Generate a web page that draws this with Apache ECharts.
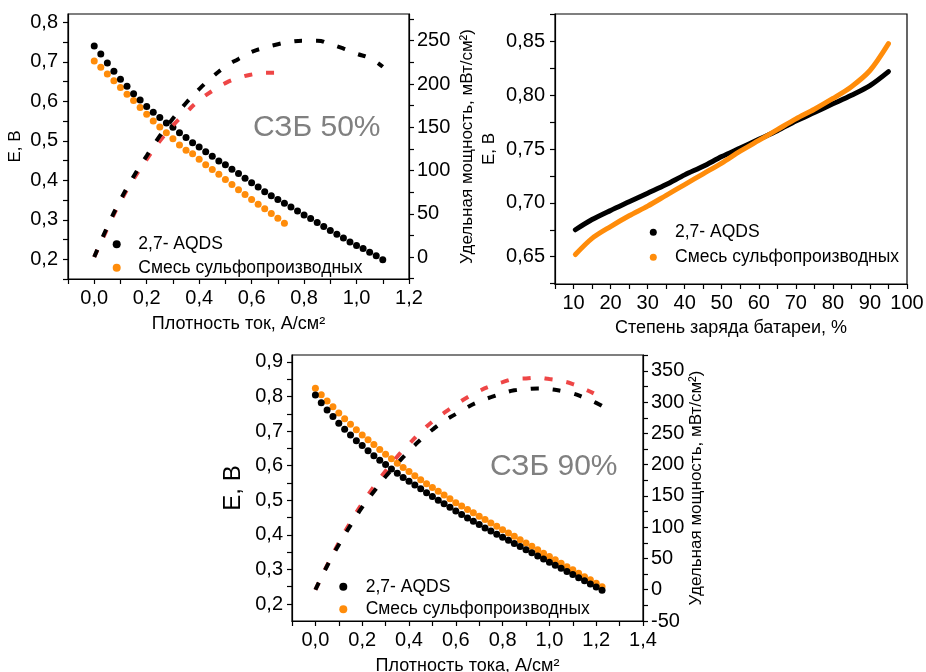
<!DOCTYPE html>
<html><head><meta charset="utf-8">
<script src="https://cdn.jsdelivr.net/npm/echarts@6/dist/echarts.min.js"></script>
<style>html,body{margin:0;padding:0;background:#fff}#c{width:926px;height:672px}</style>
</head><body><div id="c"></div>
<script>
// ---------- data ----------
const currentGrid = [0,0.025,0.05,0.075,0.1,0.125,0.15,0.175,0.2,0.225,0.25,0.275,0.3,0.325,0.35,0.375,0.4,0.425,0.45,0.475,0.5,0.525,0.55,0.575,0.6,0.625,0.65,0.675,0.7,0.725,0.75,0.775,0.8,0.825,0.85,0.875,0.9,0.925,0.95,0.975,1.0,1.025,1.05,1.075,1.1,1.125,1.15,1.175,1.2,1.225];

// СЗБ 50%
const tlAqdsV = [0.740,0.720,0.697,0.676,0.656,0.638,0.619,0.603,0.587,0.572,0.559,0.545,0.534,0.520,0.508,0.495,0.484,0.472,0.461,0.449,0.439,0.428,0.417,0.405,0.394,0.383,0.371,0.361,0.351,0.342,0.332,0.322,0.312,0.303,0.293,0.283,0.273,0.263,0.254,0.244,0.235,0.227,0.218,0.209,0.199];
const tlMixV = [0.702,0.686,0.669,0.652,0.635,0.618,0.602,0.584,0.567,0.550,0.535,0.520,0.505,0.489,0.476,0.467,0.453,0.439,0.427,0.415,0.402,0.389,0.376,0.364,0.351,0.339,0.328,0.316,0.304,0.291];
const tlPowerX = [0,0.05,0.1,0.15,0.2,0.25,0.3,0.35,0.4,0.45,0.5,0.55,0.6,0.65,0.7,0.75,0.8,0.85,0.9,0.95,1.0,1.05,1.1];
const tlAqdsP = [0,35,66,93,117,140,160,178,194,208,220,229,237,242,246,249,250,250,246,241,235,230,220];
const tlMixP = [0,33,64,90,113,134,152,167,181,192,201,207,211,213,213];

// State of charge
const socX = [10.5,15,20,25,30,35,40,45,50,55,60,65,70,75,80,85,90,95];
const socAqdsV = [0.675,0.6845,0.693,0.701,0.709,0.717,0.726,0.734,0.743,0.751,0.759,0.767,0.776,0.784,0.792,0.800,0.809,0.822];
const socMixV = [0.652,0.667,0.678,0.688,0.697,0.707,0.717,0.727,0.737,0.748,0.758,0.768,0.778,0.787,0.797,0.808,0.823,0.848];

// СЗБ 90%
const bAqdsV = [0.804,0.782,0.761,0.742,0.723,0.705,0.689,0.672,0.658,0.643,0.629,0.616,0.603,0.590,0.578,0.566,0.555,0.544,0.533,0.522,0.511,0.500,0.490,0.480,0.469,0.459,0.449,0.439,0.430,0.420,0.411,0.402,0.393,0.384,0.375,0.366,0.357,0.348,0.339,0.330,0.321,0.312,0.303,0.294,0.285,0.276,0.267,0.258,0.249,0.240];
const bMixV = [0.824,0.805,0.787,0.770,0.752,0.736,0.720,0.704,0.689,0.675,0.661,0.647,0.633,0.620,0.607,0.595,0.583,0.571,0.559,0.548,0.537,0.526,0.515,0.504,0.493,0.483,0.473,0.464,0.454,0.444,0.434,0.425,0.415,0.405,0.396,0.386,0.376,0.367,0.357,0.347,0.337,0.328,0.318,0.308,0.299,0.289,0.279,0.270,0.260,0.250];
const bPowerX = [0,0.05,0.1,0.15,0.2,0.25,0.3,0.35,0.4,0.45,0.5,0.55,0.6,0.65,0.7,0.75,0.8,0.85,0.9,0.95,1.0,1.05,1.1,1.15,1.2,1.225];
const bAqdsP = [0,38,72,103,132,157,181,202,222,240,256,270,281,292,301,308,314,319,321,322,321,318,314,307,299,294];
const bMixP = [0,39,75,108,138,165,190,213,233,252,269,283,296,308,318,326,332,337,338,339,337,334,329,321,312,306];

// tick labels / tick marks
const tlXLabels = [0,0.2,0.4,0.6,0.8,1.0,1.2];
const tlXTicks = [-0.1,0,0.1,0.2,0.3,0.4,0.5,0.6,0.7,0.8,0.9,1.0,1.1,1.2];
const tlYLabels = [0.2,0.3,0.4,0.5,0.6,0.7,0.8];
const tlYTicks = [0.15,0.2,0.25,0.3,0.35,0.4,0.45,0.5,0.55,0.6,0.65,0.7,0.75,0.8];
const tlPLabels = [0,50,100,150,200,250];
const tlPTicks = [-25,0,25,50,75,100,125,150,175,200,225,250,275];
const trXLabels = [10,20,30,40,50,60,70,80,90,100];
const trXTicks = [5,10,15,20,25,30,35,40,45,50,55,60,65,70,75,80,85,90,95,100];
const trYLabels = [0.65,0.70,0.75,0.80,0.85];
const trYTicks = [0.625,0.65,0.675,0.70,0.725,0.75,0.775,0.80,0.825,0.85,0.875];
const bXLabels = [0,0.2,0.4,0.6,0.8,1.0,1.2,1.4];
const bXTicks = [-0.1,0,0.1,0.2,0.3,0.4,0.5,0.6,0.7,0.8,0.9,1.0,1.1,1.2,1.3,1.4];
const bYLabels = [0.2,0.3,0.4,0.5,0.6,0.7,0.8,0.9];
const bYTicks = [0.15,0.2,0.25,0.3,0.35,0.4,0.45,0.5,0.55,0.6,0.65,0.7,0.75,0.8,0.85,0.9];
const bPLabels = [-50,0,50,100,150,200,250,300,350];
const bPTicks = [-50,-25,0,25,50,75,100,125,150,175,200,225,250,275,300,325,350,375];

const NAME_A = '2,7- AQDS';
const NAME_M = 'Смесь сульфопроизводных';
const FONT = 'Liberation Sans, Arial, sans-serif';
const BLACK = '#000000', ORANGE = '#ff8c0a', RED = '#ee4646';

// ---------- helpers ----------
const zip = (xs, ys) => ys.map((y, i) => [xs[i], y]);
const dec = d => v => Number(v).toFixed(d).replace('.', ',');
function axis(o) {
  return Object.assign({
    type: 'value',
    splitLine: { show: false },
    axisLine: { show: true, onZero: false, lineStyle: { color: '#000', width: 1.2 } },
    axisTick: { show: true, inside: false, length: 5, customValues: o.ticks, lineStyle: { color: '#000', width: 1.2 } },
    axisLabel: { customValues: o.labels, formatter: o.fmt, color: '#000', fontSize: 20, fontFamily: FONT, margin: o.margin || 9, showMinLabel: true, showMaxLabel: true },
    nameLocation: 'middle',
    nameTextStyle: Object.assign({ color: '#000', fontSize: 18, fontFamily: FONT }, o.nameStyle || {})
  }, o.extra);
}
function legend(dotX, top, textX, gap, dot) {
  return {
    data: [{ name: NAME_A, icon: 'circle' }, { name: NAME_M, icon: 'circle' }],
    orient: 'vertical', left: dotX - dot / 2, top: top, padding: 0,
    itemWidth: dot, itemHeight: dot, itemGap: gap, selectedMode: false,
    textStyle: { fontSize: 17.5, fontFamily: FONT, color: '#000', lineHeight: 18, padding: [0, 0, 0, textX - (dotX + dot / 2) - 5] }
  };
}
const dash = (color) => ({ color: color, width: 4, type: [8, 14], cap: 'butt' });
const dotStyle = (c) => ({ color: c, opacity: 1 });

const chart = echarts.init(document.getElementById('c'), null, { renderer: 'canvas' });
chart.setOption({
  animation: false,
  backgroundColor: '#fff',
  grid: [
    { left: 68, top: 14, width: 341, height: 265, show: true, borderColor: '#000', borderWidth: 1.2, outerBoundsMode: 'none' },
    { left: 555, top: 14, width: 352, height: 270, show: true, borderColor: '#000', borderWidth: 1.2, outerBoundsMode: 'none' },
    { left: 292, top: 355, width: 351, height: 266, show: true, borderColor: '#000', borderWidth: 1.2, outerBoundsMode: 'none' }
  ],
  title: [
    { text: 'СЗБ 50%', left: 253, top: 113, padding: 0, textStyle: { color: '#808080', fontSize: 30, fontWeight: 'normal', fontFamily: FONT } },
    { text: 'СЗБ 90%', left: 490, top: 452, padding: 0, textStyle: { color: '#808080', fontSize: 30, fontWeight: 'normal', fontFamily: FONT } }
  ],
  legend: [
    legend(116.7, 235.3, 138.3, 5.4, 8),
    legend(653.3, 223.3, 675, 7, 7),
    legend(343.3, 577.7, 365.7, 4.6, 8)
  ],
  xAxis: [
    axis({ ticks: tlXTicks, labels: tlXLabels, fmt: dec(1), extra: { gridIndex: 0, min: -0.1, max: 1.2, position: 'bottom', name: 'Плотность ток, А/см²', nameGap: 36 } }),
    axis({ ticks: trXTicks, labels: trXLabels, fmt: v => String(Math.round(v)), extra: { gridIndex: 1, min: 5, max: 100, position: 'bottom', name: 'Степень заряда батареи, %', nameGap: 35 } }),
    axis({ ticks: bXTicks, labels: bXLabels, fmt: dec(1), extra: { gridIndex: 2, min: -0.1, max: 1.4, position: 'bottom', name: 'Плотность тока, А/см²', nameGap: 36 } })
  ],
  yAxis: [
    axis({ ticks: tlYTicks, labels: tlYLabels, fmt: dec(1), margin: 10, nameStyle: { fontSize: 17 }, extra: { gridIndex: 0, min: 0.15, max: 0.821, position: 'left', name: 'Е, В', nameGap: 44 } }),
    axis({ ticks: tlPTicks, labels: tlPLabels, fmt: v => String(Math.round(v)), margin: 8, nameStyle: { fontSize: 17 }, extra: { gridIndex: 0, min: -25.4, max: 280.9, position: 'right', name: 'Удельная мощность, мВт/см²)', nameGap: 50 } }),
    axis({ ticks: trYTicks, labels: trYLabels, fmt: dec(2), margin: 10, nameStyle: { fontSize: 17 }, extra: { gridIndex: 1, min: 0.6246, max: 0.8755, position: 'left', name: 'Е, В', nameGap: 57 } }),
    axis({ ticks: bYTicks, labels: bYLabels, fmt: dec(1), margin: 9, nameStyle: { fontSize: 24 }, extra: { gridIndex: 2, min: 0.1508, max: 0.920, position: 'left', name: 'Е, В', nameGap: 47 } }),
    axis({ ticks: bPTicks, labels: bPLabels, fmt: v => String(Math.round(v)), margin: 8, nameStyle: { fontSize: 17 }, extra: { gridIndex: 2, min: -50, max: 375.5, position: 'right', name: 'Удельная мощность, мВт/см²)', nameGap: 45 } })
  ],
  series: [
    // СЗБ 50%
    { type: 'scatter', name: NAME_M, xAxisIndex: 0, yAxisIndex: 0, symbolSize: 7, itemStyle: dotStyle(ORANGE), data: zip(currentGrid, tlMixV) },
    { type: 'scatter', name: NAME_A, xAxisIndex: 0, yAxisIndex: 0, symbolSize: 7, itemStyle: dotStyle(BLACK), data: zip(currentGrid, tlAqdsV) },
    { type: 'line', name: 'P50 mix', xAxisIndex: 0, yAxisIndex: 1, showSymbol: false, smooth: true, lineStyle: dash(RED), data: zip(tlPowerX, tlMixP) },
    { type: 'line', name: 'P50 aqds', xAxisIndex: 0, yAxisIndex: 1, showSymbol: false, smooth: true, lineStyle: dash(BLACK), data: zip(tlPowerX, tlAqdsP) },
    // SOC
    { type: 'line', name: NAME_A, xAxisIndex: 1, yAxisIndex: 2, showSymbol: false, smooth: 0.3, itemStyle: { color: BLACK }, lineStyle: { color: BLACK, width: 5, cap: 'round' }, data: zip(socX, socAqdsV) },
    { type: 'line', name: NAME_M, xAxisIndex: 1, yAxisIndex: 2, showSymbol: false, smooth: 0.3, itemStyle: { color: ORANGE }, lineStyle: { color: ORANGE, width: 5, cap: 'round' }, data: zip(socX, socMixV) },
    // СЗБ 90%
    { type: 'scatter', name: NAME_M, xAxisIndex: 2, yAxisIndex: 3, symbolSize: 7, itemStyle: dotStyle(ORANGE), data: zip(currentGrid, bMixV) },
    { type: 'scatter', name: NAME_A, xAxisIndex: 2, yAxisIndex: 3, symbolSize: 7, itemStyle: dotStyle(BLACK), data: zip(currentGrid, bAqdsV) },
    { type: 'line', name: 'P90 mix', xAxisIndex: 2, yAxisIndex: 4, showSymbol: false, smooth: true, lineStyle: dash(RED), data: zip(bPowerX, bMixP) },
    { type: 'line', name: 'P90 aqds', xAxisIndex: 2, yAxisIndex: 4, showSymbol: false, smooth: true, lineStyle: dash(BLACK), data: zip(bPowerX, bAqdsP) }
  ]
});
</script></body></html>
